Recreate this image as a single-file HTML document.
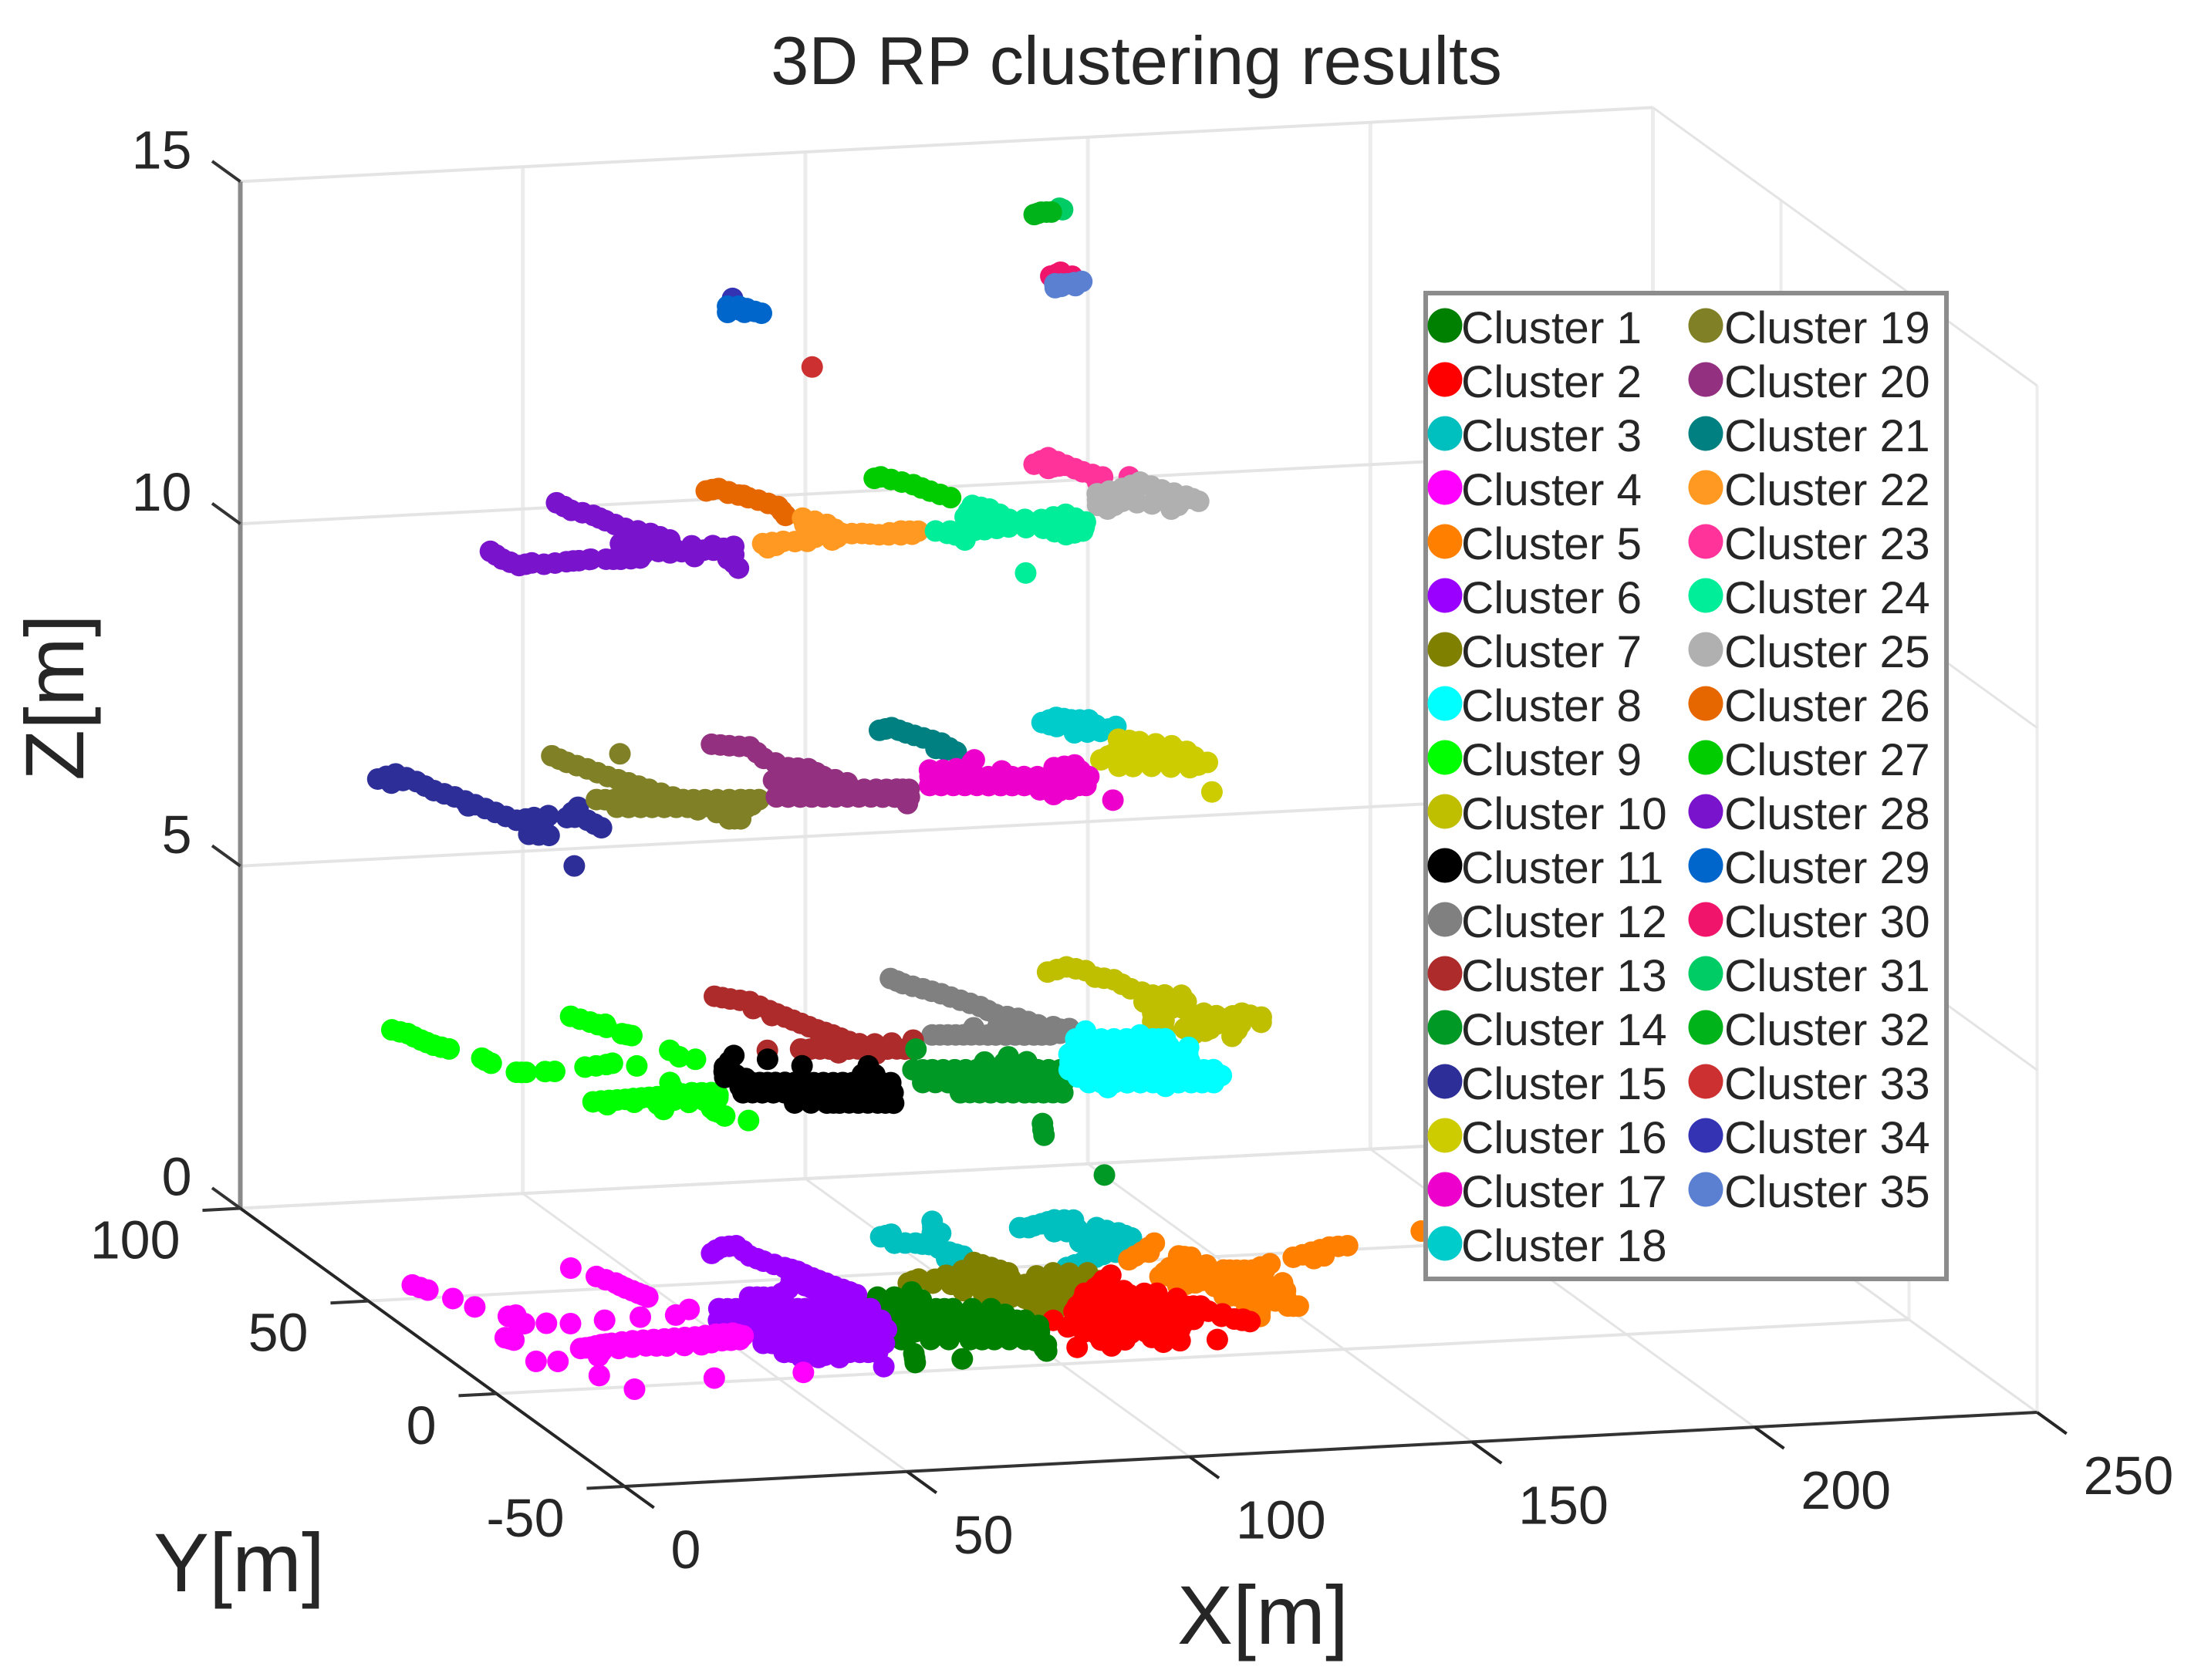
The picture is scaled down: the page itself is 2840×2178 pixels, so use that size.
<!DOCTYPE html>
<html lang="en">
<head>
<meta charset="utf-8">
<title>3D RP clustering results</title>
<style>
html,body{margin:0;padding:0;background:#fff;}
body{width:2840px;height:2178px;overflow:hidden;}
svg{display:block;font-family:"Liberation Sans",Arial,sans-serif;}
</style>
</head>
<body>
<svg id="chart" xmlns="http://www.w3.org/2000/svg" width="2840" height="2178" viewBox="0 0 2840 2178">
  <rect x="0" y="0" width="2840" height="2178" fill="#ffffff"/>
  <g id="grid"></g>
  <g id="axes"></g>
  <g id="marks"></g>
  <text x="1473" y="109" font-size="88.5" text-anchor="middle" fill="#262626">3D RP clustering results</text>
  <text x="1637" y="2131" font-size="108" text-anchor="middle" fill="#262626">X[m]</text>
  <text x="310" y="2063" font-size="108" text-anchor="middle" fill="#262626">Y[m]</text>
  <text transform="translate(108 904) rotate(-90)" font-size="108" text-anchor="middle" fill="#262626">Z[m]</text>
  <g id="legend"></g>
</svg>
<script>
// Axis ticks
const xTicks = [0, 50, 100, 150, 200, 250];
const yTicks = [-50, 0, 50, 100];
const zTicks = [0, 5, 10, 15];

// Legend labels
const clusterNames = ["Cluster 1","Cluster 2","Cluster 3","Cluster 4","Cluster 5","Cluster 6","Cluster 7","Cluster 8","Cluster 9","Cluster 10","Cluster 11","Cluster 12","Cluster 13","Cluster 14","Cluster 15","Cluster 16","Cluster 17","Cluster 18","Cluster 19","Cluster 20","Cluster 21","Cluster 22","Cluster 23","Cluster 24","Cluster 25","Cluster 26","Cluster 27","Cluster 28","Cluster 29","Cluster 30","Cluster 31","Cluster 32","Cluster 33","Cluster 34","Cluster 35"];

// Height of each cluster in metres
const clusterZ = [0,0,0,0,0,0,0,3.6,3.6,3.6,3.6,3.6,3.6,3.6,7.2,7.2,7.2,7.2,7.2,7.2,7.2,10.8,10.8,10.8,10.8,10.8,10.8,10.8,13,13.5,14.5,14.5,13,13,13.5];

// Cluster points as [x, y] in metres
const cluster1 = [[91.7,40.2],[87.7,38.1],[84.9,38.5],[83.4,32.5],[86.2,32],[89.1,31.6],[91.9,31.1],[94.7,30.7],[101,29.7],[82.4,26.4],[85.8,25.9],[89.3,25.3],[92.7,24.8],[95.5,24.3],[98.4,23.9],[101.2,23.4],[104,23],[79.8,20.6],[83.2,20.1],[86.6,19.5],[90,19],[93.4,18.4],[96.9,17.9],[100.3,17.3],[103.7,16.8],[79.2,16.5],[90.5,14.7],[94.5,14.1],[99.6,13.3],[101.9,10.1],[100.5,6.9],[78,9.1],[76.2,4.6],[84.8,5.2],
[84.8,32.2],[87.6,31.8],[90.5,31.3],[93.3,30.9],[97.9,30.2],[84.1,26.1],[87.5,25.6],[91,25],[94.1,24.5],[97,24.1],[99.8,23.6],[102.6,23.2],[81.5,20.3],[84.9,19.8],[88.3,19.2],[91.7,18.7],[95.1,18.1],[98.6,17.6],[102,17],[84,15.8],[87,15.3],[92.5,14.4],[97,13.7],[101,12.5],[86.3,35],[89,35],[91.5,36],[82.5,29],[95,27.5],[98,27],[102,26.5],[90,28.5],[86,29],[105,20],[81,24],[80.5,17.5],[89.2,36.5],[77.1,6.8],[100.8,8.5]];
const cluster2 = [[106.4,8],[112.4,7.8],[121.8,8.3],[124.9,8.6],[131.3,8.2],[111.1,15.6],[115.6,13.5],[121.3,14],[127.5,14.4],[108.6,22.2],[114,22],[118.5,19.9],[124.2,20.4],[130,20.9],[140.2,17.8],[128.4,43.4],[122.9,37.3],[120,35],[123.9,34.4],[127,35.3],[129.8,33.4],[131.9,33.1],[115.8,28.7],[118.8,28.3],[122.2,27.7],[125.8,28.5],[128.7,28],[131.3,27.6],[133.7,25.9],[136.2,25.5],[112.5,22.3],[115.5,21.9],[118.4,21.4],[121.4,20.9],[125,21.7],[127.9,21.3],[129.1,16.9],[136.3,22.7],[137.3,19.8],[138.8,18.1],[140.8,16.4],
[117.3,28.5],[120.5,28],[124,28.1],[127.2,28.2],[130,27.8],[132.5,26.7],[135,25.7],[114,22.1],[117,21.6],[120,21.1],[123.2,21.3],[126.5,21.5],[125,31],[129,30],[121.5,31.5],[118,31.5],[114,26],[111,19],[113,18],[118,16.5],[124,17],[128,18],[133,23],[138,21],[139.8,17.2],[132,19],[125.5,37.5],[124.5,39],[126,41],[109.5,18.5],[112.7,14.5],[118.5,13.7],[124.4,14.2],[116,10.5],[121,11],[125,11.5],[112,11],[118,26],[122,24.5],[126,24.5],[130,24],[127,33],[134,30]];
const cluster3 = [[99.2,68.8],[101.5,69.8],[100,65.2],[103.5,64.7],[111.2,75.2],[108.6,69.4],[105.4,63.6],[107,59.3],[108.4,56.9],[105.1,56.1],[124.2,69.7],[125.7,69.5],[128.7,71.1],[131.7,72.7],[134.8,72.1],[129,66.8],[131.1,66.5],[133.4,67.5],[130.9,61],[132,59.4],[136.9,67.7],[134.5,61.8],[133.8,57.8],[134.5,54.9],[139.3,64.5],[140.3,61.6],[130,52.8],[126.7,50.6],[122.9,48.4],[137,57.2],
[100.4,69.3],[100.6,67.5],[101.8,65],[104.4,64],[106.2,61.5],[107.7,58],[110,72.3],[109.9,69],[106.8,66],[127,70.3],[130.2,71.9],[133.3,72.4],[130,69.8],[133.5,70],[132,64],[133.2,64],[131.5,60],[133,58.5],[134.2,56.3],[135.7,64.8],[137.9,66],[139.8,63],[138.6,59.4],[128.4,51.7],[124.8,49.5],[131.8,54],[132.2,56],[137.2,63]];
const cluster4 = [[10.9,56.9],[12.3,53.9],[14.5,49],[16.2,44.2],[19.6,38.6],[21.1,39],[20.6,34.5],[24.3,34.1],[28.2,33.3],[34.6,34.1],[41.2,34.7],[47.5,34.8],[51,37.3],[40.9,61.2],[43.2,56.3],[44.9,52.5],[45.4,49.7],[46.3,46.8],[47,44.6],[14.2,27.9],[15.1,26.5],[13.9,15.2],[17.5,14.6],[21.1,6.4],[23.8,-1.4],[39.5,2.1],[55.5,2.6],[24.2,20.5],[26.2,20.9],[28.5,21.9],[25.4,16.2],[30.5,22.3],[34.5,23],[38.3,23.1],[42,23.2],[45.7,23.3],[49.7,24.1],[52.8,24.2],[53.9,22.6],[30.5,19.5],[35.6,20.1],[39,19.5],[45,19.2],[49.3,20.7],[52.5,20.8],[32.5,21.5],[36.5,21.8],[40.5,21.3],[43,21],[47.5,21.8],
[25.2,20.7],[27.3,21.4],[29.5,22.1],[32.5,22.7],[36.4,23],[40.2,23.1],[43.9,23.3],[47.7,23.7],[51.2,24.1],[53.3,23.4],[27,18.5],[33,19.8],[37.3,19.8],[42,19.3],[47.1,20],[50.9,20.7],[11.6,55.4],[44,54.4],[45.1,51.1],[45.9,48.2],[46.7,45.7],[14.7,27.2],[20.1,36.5]];
const cluster5 = [[142.9,58.4],[138.8,54.2],[134.9,50.7],[140,54],[144,51.3],[145.7,50.3],[139.9,45.7],[136.2,41.4],[139.4,41.6],[142.1,42.6],[137.1,36.4],[140.6,37.3],[144.3,39.4],[148.2,43],[150.3,42.6],[152.9,42.2],[157.3,45],[144.9,36.6],[147,36.2],[149.8,36.5],[152.6,39.5],[142.4,30],[144.5,29.7],[147.6,30.6],[143.8,24.3],[143.6,18.7],[145.9,23.9],[153.7,31],[149.7,26.1],[150.6,23.2],[152.3,22.9],[162.6,47.6],[166.8,49.7],[170.9,51.8],[174.2,52],[165.7,46.4],[151.3,32.8],[189.7,57.4],
[140.9,56.3],[136.8,52.4],[144.8,50.8],[138,43.5],[141,44],[143,46],[137.8,41.5],[140.7,42],[138.7,36.8],[142.5,38.4],[146,41],[149.2,42.8],[151.6,42.4],[155,43.6],[146,36.4],[148.4,36.3],[151.2,38],[143.4,29.9],[146,30.1],[144,33],[148,33],[145,27],[149,28],[151.5,31],[152,27],[144.8,21.3],[151.5,23],[149.8,31],[164.7,48.6],[168.8,50.7],[172.5,51.9],[168,47.5],[141.5,40],[155,35],[146.5,46],[143,35],[155,42],[151,29],[148,39.5],[152,35]];
const cluster6 = [[67.5,64.9],[70.7,67.8],[73.3,68.1],[73.2,62.6],[74.3,59.6],[76.3,55.8],[77.6,53.6],[78.5,49.9],[79.6,46.9],[80.9,43.3],[82,40.3],[74.5,49.2],[75.6,46.2],[76.6,43.3],[77.5,39.7],[63.8,41.9],[66.1,41.5],[68.9,41.1],[56.1,36.9],[58.9,36.4],[61.2,36.1],[63.5,35.7],[65.7,35.3],[68,35],[70.3,34.6],[72.6,34.2],[74.8,33.9],[77.1,33.5],[79.4,33.1],[81.1,32.9],[53.4,31.1],[56.3,30.6],[59.7,30.1],[64.2,29.3],[68.8,28.6],[72.2,28],[75,27.6],[77.9,27.2],[80.2,26.8],[57.1,24.2],[60.5,23.7],[63.9,23.2],[67.3,22.6],[70.7,22.1],[74.1,21.5],[77,21.1],[55.5,18.3],[58.4,17.8],[61.2,17.3],[64.1,16.9],[66.9,16.4],[69.8,16],[72.6,15.5],[75.5,15.1],[56.9,13.2],[59.8,12.7],[62.6,12.3],[66,11.7],[69.4,11.2],[72.3,10.7],[58.6,10.1],[61.4,9.7],[64.8,9.1],[70.1,3.4],
[69,66.4],[72,68],[73.3,65.3],[73.8,61],[75.3,57.7],[77,54.7],[78,51.8],[79,48.4],[80.2,45],[81.5,41.8],[75,47.7],[76.1,44.8],[77,41.5],[65,41.7],[67.5,41.3],[72,45],[70,43],[57.5,36.6],[60,36.2],[62.3,35.9],[64.6,35.5],[66.8,35.2],[69.1,34.8],[71.4,34.4],[73.7,34],[76,33.7],[78.2,33.3],[80.2,33],[54.9,30.9],[58,30.3],[62,29.7],[66.5,29],[70.5,28.3],[73.6,27.8],[76.5,27.4],[79,27],[58.8,24],[62.2,23.4],[65.6,22.9],[69,22.3],[72.4,21.8],[75.5,21.3],[79,22],[57,18],[59.8,17.5],[62.6,17.1],[65.5,16.6],[68.3,16.2],[71.2,15.7],[74,15.3],[58.3,13],[61.2,12.5],[64.3,12],[67.7,11.5],[70.8,11],[60,11],[63,10.7],[54.5,27.5],[57,27],[60,26.5],[64,26],[68,25.5],[72,25],[76,24.5]];
const cluster7 = [[95.8,46.5],[93.2,44.8],[101.2,47.7],[108.7,53.4],[110.4,50.4],[112,47.3],[119.4,46.1],[125.1,45.2],[103.5,45.9],[106.3,44.1],[109.7,40.7],[114.8,41.3],[118.8,39.3],[122.8,40],[105.1,36],[109,34],[112.4,32],[115.9,34.3],[100.5,39.5],[108.9,28.4],[111.8,28],[118.1,35.3],[97.2,44.1],
[94.5,45.7],[98.5,46],[102.3,46.8],[105,49.6],[109.5,52],[111.2,48.8],[107.5,47],[111,44],[116,45],[122,45.5],[104.9,45],[108,42.4],[112.2,41],[116.8,40.3],[120.8,39.6],[103.3,37.8],[107,35],[110.7,33],[114.2,33],[117,35],[110.3,28.2],[110,37],[114,37],[102,42],[106,39.5],[118,43],[100,43],[109,31],[113,29.5],[125,41],[121,42.5]];
const cluster8 = [[120.3,39.2],[124.5,38.5],[128.7,37.9],[133,37.2],[135.1,36.9],[123.7,42.9],[131.8,39.5],[115.7,31.7],[120,31],[124.2,30.3],[128.4,29.7],[132.6,29],[135.3,28.6],[112.2,23.9],[116.5,23.2],[120.7,22.5],[124.9,21.9],[129.1,21.2],[132.8,20.6],[136,20.1],[112.5,16.9],[116.7,16.2],[121,15.5],[125.2,14.9],[129.4,14.2],[133.1,13.6],[114.5,13.9],[124.3,13],
[122.4,38.8],[126.6,38.2],[130.8,37.5],[134,37],[117.8,31.3],[122.1,30.6],[126.3,30],[130.5,29.4],[134,28.8],[114.3,23.5],[118.6,22.8],[122.8,22.2],[127,21.5],[131,20.9],[134.4,20.3],[114.6,16.5],[118.8,15.8],[123.1,15.2],[127.3,14.5],[131.2,13.9],[118,34.5],[122,34.5],[126,34],[130,33.5],[134,33],[137,32],[114,27.5],[118,27],[122,26.5],[126,26],[130,25.5],[134,25],[112,20],[116,19.5],[120,19],[124,18.5],[128,18],[132,17],[136,17]];
const cluster9 = [[9.5,61.8],[11.3,59.5],[12,55.9],[12.9,53],[14.6,50.7],[17.9,45.2],[18.3,42.4],[20.4,37.2],[22,36.9],[25.3,36.8],[26.9,36.6],[32.9,38],[37,38.7],[38.3,39.2],[41.7,37.2],[50.7,44.2],[50.8,40.7],[52.9,39],[42.1,63.9],[44,60.5],[45.5,57.4],[46.6,53.8],[47.8,52.6],[26.3,20.3],[29.3,20.6],[32.2,20.7],[35.2,21],[38.1,21.2],[41,21.5],[44.7,22.3],[47.9,21.8],[47.8,19],[43.4,28],[36.2,14.6],[44.4,14],[44.8,9.7],[47.7,6.8],
[10.4,60.6],[11.6,57.7],[12.4,54.5],[13.7,51.8],[18,44],[21.2,37],[35,38.3],[46,59],[43,62.2],[44.7,59],[47.2,53.2],[27.8,20.5],[30.7,20.6],[33.7,20.9],[36.6,21.1],[39.5,21.3],[42.8,21.9],[46.3,22],[48.5,20.5],[36.5,17.5],[42,17.5],[45,18],[44.6,11.8],[42.5,25],[40,19],[44.3,12.5],[33,19],[28,18.5]];
const cluster10 = [[130.9,73.6],[135.2,75.7],[137.5,73.3],[137.6,69.8],[140.1,68],[140.8,63],[143,59.2],[147.7,58.4],[138.9,50.2],[135.4,42.4],[143.2,52.2],[144,46.6],[141,38.7],[147.3,48.8],[150.3,45.6],[146.7,36.4],[155.9,45.3],[154.7,42.7],[153.6,47.8],[140.6,41.5],[144.8,40.8],
[133,74.6],[136.3,74.5],[138.8,69],[140.4,65.5],[141.9,61],[145,59],[139,46],[137,46],[141,52],[145,52],[145.7,47.7],[148.8,47.2],[151.5,46.7],[154.5,46.5],[143,42.5],[147,43],[143.4,39.7],[151,42.5],[147,55],[136.8,41],[149,39.5],[140,56]];
const cluster11 = [[64.8,37.1],[69,32.9],[79.9,31.1],[60.1,39.9],[55.9,34.3],[55.5,26],[58.2,25.6],[60.8,25.2],[64,24.7],[67.1,24.1],[70.3,23.6],[73.5,23.1],[76.6,22.6],[79.8,22.1],[53.1,20.9],[56.3,20.4],[60,19.8],[63.7,19.2],[66.9,18.7],[70,18.2],[73.2,17.7],[76.4,17.2],[77.9,17],[59.3,14.4],[64.6,13.5],[66.7,13.2],[69.8,12.7],[73,12.2],[75.6,11.7],[53.6,29.1],[77.3,26.7],
[56.9,25.8],[59.5,25.4],[62.4,25],[65.5,24.4],[68.7,23.9],[71.9,23.4],[75,22.9],[78.2,22.4],[54.7,20.7],[58.1,20.1],[61.9,19.5],[65.3,19],[68.5,18.5],[71.6,18],[74.8,17.5],[77,17.1],[62,14],[65.7,13.4],[68.3,13],[71.4,12.5],[74.3,12],[54,24],[77,27],[79,26.5],[56,30],[54.8,32],[58,37],[56.8,28],[60.5,17],[67.5,15.5],[72,15],[76,14],[65,21.5],[70,21],[75,20]];
const cluster12 = [[103.5,74.5],[104.4,71.6],[106.5,68.5],[108.4,65.5],[110.1,61.7],[111.9,58],[112.7,53.6],[115.5,51.1],[117.3,47.3],[121.6,44.6],[118.7,44.3],[97.5,45],[100.1,44.6],[102.7,44.2],[105.4,43.8],[108,43.3],[111.2,42.8],[114.3,42.3],[117,41.9],
[104,73],[105.4,70],[107.4,67],[109.2,63.6],[111,59.9],[112.3,55.8],[114.1,52.3],[116.4,49.2],[119.4,46],[120,44.5],[98.8,44.8],[101.4,44.4],[104,44],[106.7,43.5],[109.6,43],[112.7,42.5],[115.6,42.1],[110,47],[113,46.5],[116,45.5],[106,47.5],[119,42.5]];
const cluster13 = [[70.4,70.2],[72.4,68.4],[75,66.6],[76.2,61.5],[77.3,57.9],[78.5,54.3],[79.7,50.6],[81.1,47.6],[82.3,43.9],[66.8,41.6],[72.6,41.4],[75.8,40.9],[79,40.4],[82.1,39.9],[85.3,39.4],[88.5,38.9],[91.1,38.4],[93.2,42.9],[77,43.4],
[71.4,69.3],[73.7,67.5],[75.6,64],[76.7,59.7],[77.9,56.1],[79.1,52.4],[80.4,49.1],[81.7,45.8],[74.2,41.1],[77.4,40.6],[80.5,40.1],[83.7,39.6],[86.9,39.1],[89.8,38.6],[92,40.5],[83.5,42.5],[86,42],[89,42],[78,38.5],[84,37],[74,63],[75.5,59]];
const cluster14 = [[91.6,38.3],[86.4,28],[89.6,27.5],[93.3,26.9],[96.9,26.3],[100.6,25.7],[103.8,25.2],[107,24.7],[110.7,24.1],[105.1,32],[85.1,21.3],[89.3,20.6],[93.5,19.9],[97.7,19.2],[102,18.6],[106.2,17.9],[108.3,17.6],[89,15.2],[92.2,14.7],[95.9,14.1],[99.6,13.5],[102.7,13],[105.9,12.5],[95.5,-2.5],[94.2,-5.6],[93.1,-8.4],[94,-30],
[88,27.7],[91.4,27.2],[95.1,26.6],[98.7,26],[102.2,25.4],[105.4,25],[108.8,24.4],[87.2,21],[91.4,20.2],[95.6,19.5],[99.8,18.9],[104.1,18.2],[107,17.8],[90.6,15],[94,14.4],[97.7,13.8],[101.1,13.3],[104.3,12.8],[103,29],[100,30],[107,29],[91,24],[96,23],[101,22],[106,21],[110,21],[87,25]];
const cluster15 = [[8.2,64.4],[12.3,66.5],[14,62.1],[14.8,57.1],[16.8,53.4],[18.4,48.9],[20,44.5],[21.7,40],[25.2,40.9],[20.5,32.6],[23.6,31.5],[24.9,36.8],[30.6,40],[34.8,44.9],[34,34],[33.4,38.1],[20.8,15.5],
[10.2,65.5],[13.2,64.3],[14.4,59.6],[15.8,55.2],[17.6,51.1],[19.2,46.7],[20.8,42.2],[23.5,40.4],[22,32],[22.7,38.8],[22.7,35],[32.7,42.5],[32,40],[33.7,36],[28,41.5],[12,63],[17,48.5],[9.5,62]];
const cluster16 = [[139.5,64.9],[142.4,63.1],[146.8,60.2],[146.4,54.8],[136.1,58.5],[131.9,55],[137.6,56.2],[142.1,56.9],[133.4,51.3],[138.8,50.4],[144.8,48.7],[148.9,50.9],[142.9,35.9],
[141,64],[144.6,61.6],[146.6,57.5],[134,56.7],[138.8,59],[139.8,56.5],[144.3,56],[135.7,50.8],[141.8,49.5],[146.8,49.8],[136,54],[140,53],[144,52.5],[148,54],[148,57]];
const cluster17 = [[111,58.3],[101.3,54.4],[106,54.3],[122.4,52.3],[126.4,53.1],[99.9,51.1],[103.7,50.5],[107.6,49.9],[111.5,49.2],[115.4,48.6],[119.8,47.9],[123.7,47.3],[126.1,46.9],[97.8,46.6],[101.7,46],[105.6,45.4],[109.5,44.7],[113.4,44.1],[117.3,43.5],[121.2,42.9],[123.6,42.5],[116.2,38.8],[124.7,34.4],
[101.8,50.8],[105.6,50.2],[109.5,49.5],[113.4,48.9],[117.6,48.2],[121.7,47.6],[124.9,47.1],[99.7,46.3],[103.6,45.7],[107.5,45],[111.4,44.4],[115.3,43.8],[119.2,43.2],[122.4,42.7],[108.5,54],[103.5,54],[113,52],[124.4,52.7],[118,40.5],[115,41.5],[120,41],[126,50],[110,57],[103,49]];
const cluster18 = [[130.7,75.3],[134.2,77.5],[136.1,75.9],[139,75.4],[133.7,69.3],[138.3,69.3],[142,71.4],[132.2,72.9],
[132.5,76.4],[135.2,76.7],[137.5,75.6],[135,71.5],[136,69.3],[140.2,70.3],[131.5,74],[135.5,74],[139,72.5]];
const cluster19 = [[42.2,71.5],[43.2,67.8],[45.1,64],[46.7,59.6],[48.7,55.9],[50.6,52.1],[52.8,47.6],[53.9,70.7],[39.6,48.3],[42.5,47.8],[45.4,47.4],[48.8,46.8],[52.2,46.3],[55.6,45.7],[59.5,45.1],[63.4,44.5],[66.4,44],[41.2,43.9],[45.1,43.2],[49,42.6],[52.9,42],[57.1,35.1],[59,34.8],[56.5,38.6],[62.6,40.4],
[42.7,69.6],[44.1,65.9],[45.9,61.8],[47.7,57.7],[49.6,54],[51.7,49.8],[41,48],[44,47.6],[47.1,47.1],[50.5,46.5],[53.9,46],[57.5,45.4],[61.5,44.8],[64.9,44.2],[43.1,43.5],[47,42.9],[51,42.3],[54,40.5],[58,35],[58,38],[60,41],[56,42],[64,41.5],[50,50],[47.5,53]];
const cluster20 = [[71.2,73.1],[73.8,71.9],[76.9,70.8],[76.6,64.6],[78.5,59.3],[81.6,58.2],[82.3,53.9],[84.8,50.1],[73.2,53.3],[77.6,52.6],[72.6,48.6],[76.4,48],[80.3,47.4],[84.2,46.7],[88.1,46.1],[91.5,45.6],[93.5,45.2],[69.9,44.9],[73.8,44.2],[77.7,43.6],[81.6,43],[85.5,42.4],[89.4,41.7],[91.8,41.3],[90,38.1],
[72.5,72.5],[75.3,71.3],[76.8,67.7],[77.5,62],[80,58.8],[82,56],[83.5,52],[74.5,51],[76,50],[80,50],[74.5,48.3],[78.3,47.7],[82.2,47],[86.1,46.4],[89.8,45.8],[92.5,45.4],[71.8,44.5],[75.7,43.9],[79.6,43.3],[83.5,42.7],[87.4,42],[90.6,41.5],[84,44.5],[90,43.5]];
const cluster21 = [[102.1,75.7],[104.7,76.7],[105.9,73.7],[107.6,70.7],[109.4,67.6],[109.8,62.7],[107.3,65.1],
[103.4,76.2],[105.3,75.2],[106.7,72.2],[108.5,69.2],[109.6,65],[108.5,64]];
const cluster22 = [[69.2,48.7],[69.1,46.5],[73.1,49.3],[81.6,60.5],[79.4,53.9],[84.2,56.7],[84.6,51.7],[87.9,51.2],[90.4,50.1],[94.9,51.4],[97.7,50.9],[94,49.5],[81.5,48.7],[77.1,48.7],
[71,49],[71,47.5],[80.5,57.2],[82.9,58.6],[82,55],[84.4,54],[86.2,51.4],[89.1,50.7],[92.6,50.8],[96.3,51.1],[92,49.8],[96,49.5],[79.3,50.5],[75,48.9],[83,50],[81,53]];
const cluster23 = [[132.1,81.5],[135.9,84.4],[137.1,80.1],[138.4,76.4],[140.5,73.3],[138.5,70.8],[144.9,72.6],[134.7,79.7],
[134,83],[136.5,82.2],[137.8,78.2],[139.4,74.8],[139.5,72],[135.9,80],[133.5,79]];
const cluster24 = [[112.5,62.4],[108.7,56.8],[114.5,60.1],[115.4,54.4],[120.7,53.5],[125.9,55.5],[127.4,51.1],[100.6,50.5],[105.5,49.7],[109,49.9],[113.6,50.6],[119,49],[121.3,45.2],[124.9,46.6],[103.4,45.2],[105.9,27],
[110.6,59.6],[113.5,61.2],[115,57.2],[118,54],[123.3,54.5],[126.6,53.3],[112,56],[103,50.1],[107.2,49.8],[111.3,50.2],[116.3,49.8],[120.1,47],[123.1,45.9],[122.5,50],[117,52],[103,48],[108,52.5],[102,49],[126,48.5]];
const cluster25 = [[145.5,69.7],[141.1,67],[135.8,65],[133.2,59.1],[147.3,65.2],[149.9,61.4],[150.8,58.5],[142.5,58.4],[138.2,60.5],[134,57],[144.5,55.3],
[143.3,68.3],[138.4,66],[134.5,62],[146.4,67.4],[148.6,63.3],[150.4,60],[140.3,59.4],[136,58.7],[145,60],[141,63],[137,62],[148,59],[143,66],[146.5,57]];
const cluster26 = [[71.9,76.7],[74.5,77.6],[76.3,73.8],[78.4,70.7],[80.2,67],[79.4,62.3],
[73.2,77.2],[75.4,75.7],[77.3,72.2],[79.3,68.8],[79.8,64.6],[75,75],[77,73.5]];
const cluster27 = [[103.9,79.2],[105,77.6],[102.5,78.6],[107.5,74.4],[108.8,70.7],[110.7,66.9],
[106.2,76],[108.1,72.5],[109.7,68.8]];
const cluster28 = [[44.5,74.7],[45.2,70.5],[47.7,67.4],[48.5,64.4],[50,60],[53,56.8],[54.7,53],[22.5,52],[22.7,47.8],[24,44.1],[28.4,44.1],[32.7,44.8],[37.3,45.4],[42.2,44.6],[45.7,52.4],[48.7,48.4],[51.8,46.5],[56.4,47.2],[59.6,46.7],[63.8,48.1],[60,39.7],[59.6,37],[49.8,53.8],[51.9,50.7],[35,45],[39.8,45],[26.7,45.1],[45.7,44.7],
[44.9,72.6],[46.5,69],[48.1,65.9],[49.2,62.2],[51.5,58.4],[53.8,54.9],[51,55],[53,52],[22.6,50],[23.3,46],[25.4,44.6],[30.5,44.4],[34,45],[37,45.3],[41,44.8],[44,44.6],[47,46.5],[47.2,50.4],[50.2,47.5],[54,46.8],[58,47],[61.7,47.4],[61.9,43.9],[60,42],[55,44],[53.5,49],[57,49.5],[60.5,49]];
const cluster29 = [[83.2,93.3],[85,93],[85.8,91.6],[87.2,88.9],[81.8,90.2],[84.6,89.8],[84.4,91],[86.5,90],[83,91.7]];
const cluster30 = [[138.1,84.4],[135.6,82.7],[139.1,82.1],[137,83.5]];
const cluster31 = [[136.9,82.2],[137.1,81.4]];
const cluster32 = [[131.3,79.7],[133,80.7],[134.7,80.5],[132.2,80.2],[133.9,80.6]];
const cluster33 = [[83.3,60.5]];
const cluster34 = [[85.8,97.1]];
const cluster35 = [[134.5,78.7],[133.7,76.8],[136.5,78.4],[139.5,79.2],[135.5,78.5],[138,78.8],[135,77.3],[137.5,77.3]];
const clusterPoints = [cluster1,cluster2,cluster3,cluster4,cluster5,cluster6,cluster7,cluster8,cluster9,cluster10,cluster11,cluster12,cluster13,cluster14,cluster15,cluster16,cluster17,cluster18,cluster19,cluster20,cluster21,cluster22,cluster23,cluster24,cluster25,cluster26,cluster27,cluster28,cluster29,cluster30,cluster31,cluster32,cluster33,cluster34,cluster35];

// Cluster colours and the order they are painted in (back to front)
const clusterColors = ["#008000","#ff0000","#00bfbf","#ff00ff","#ff8000","#9900ff","#808000","#00ffff","#00ff00","#bfbf00","#000000","#808080","#ad2b2b","#009926","#2e2e99","#cccc00","#ee00cc","#00cccc","#808026","#933080","#008080","#ff9922","#ff3399","#00ee99","#b0b0b0","#e66600","#00cc00","#7a14cc","#0066cc","#f0146b","#00cc66","#00b31a","#cc3030","#3333b3","#5b80d1"];
const paintOrder = [3,5,7,2,1,6,4,10,12,13,14,8,9,11,15,19,18,16,21,17,20,23,25,26,22,27,24,28,34,29,30,35,31,32,33];

const SVGNS = "http://www.w3.org/2000/svg";
const xLimits = [0, 250];
const yLimits = [-50, 100];
const zLimits = [0, 15];

// Axis functions: data metres to page pixels
function projX(x, y) { return 643.5 + 7.324 * x - 3.32 * y; }
function projY(x, y, z) { return 1806.8 - 0.384 * x - 2.403 * y - 88.74 * z; }

function drawLine(parent, name, a, b, color, width) {
  const el = document.createElementNS(SVGNS, "line");
  el.setAttribute("x1", projX(a[0], a[1]));
  el.setAttribute("y1", projY(a[0], a[1], a[2]));
  el.setAttribute("x2", projX(b[0], b[1]));
  el.setAttribute("y2", projY(b[0], b[1], b[2]));
  el.setAttribute("stroke", color);
  el.setAttribute("stroke-width", width);
  
  
  parent.appendChild(el);
}

function drawLabel(parent, name, px, py, anchor, content) {
  const el = document.createElementNS(SVGNS, "text");
  el.setAttribute("x", px);
  el.setAttribute("y", py);
  el.setAttribute("font-size", "70");
  el.setAttribute("fill", "#262626");
  el.setAttribute("text-anchor", anchor);
  el.textContent = content;
  
  
  parent.appendChild(el);
}

const gridGroup = document.getElementById("grid");
const axesGroup = document.getElementById("axes");
const marksGroup = document.getElementById("marks");
const legendGroup = document.getElementById("legend");
const gridColor = "#e4e4e4";
const [x0, x1] = xLimits;
const [y0, y1] = yLimits;
const [z0, z1] = zLimits;

// Back wall, right wall and floor grid
xTicks.forEach(function (t) {
  drawLine(gridGroup, "grid-line-x-wall", [t, y1, z0], [t, y1, z1], "#ececec", 5);
  drawLine(gridGroup, "grid-line-x-floor", [t, y0, z0], [t, y1, z0], gridColor, 3);
});
yTicks.forEach(function (t) {
  drawLine(gridGroup, "grid-line-y-wall", [x1, t, z0], [x1, t, z1], "#ececec", 4);
  drawLine(gridGroup, "grid-line-y-floor", [x0, t, z0], [x1, t, z0], gridColor, 4);
});
zTicks.forEach(function (t) {
  drawLine(gridGroup, "grid-line-z-back", [x0, y1, t], [x1, y1, t], gridColor, 4);
  drawLine(gridGroup, "grid-line-z-right", [x1, y1, t], [x1, y0, t], gridColor, 3);
});

// Axis lines and ticks
drawLine(axesGroup, "z-axis-line", [x0, y1, z0], [x0, y1, z1], "#8a8a8a", 6);
drawLine(axesGroup, "y-axis-line", [x0, y1, z0], [x0, y0, z0], "#262626", 4);
drawLine(axesGroup, "x-axis-line", [x0, y0, z0], [x1, y0, z0], "#333333", 4);
xTicks.forEach(function (t) {
  drawLine(axesGroup, "x-tick", [t, y0, z0], [t, y0 - 11.5, z0], "#262626", 4);
  drawLabel(axesGroup, "x-tick-label", projX(t, y0) + 60, projY(t, y0, z0) + 106, "start", String(t));
});
yTicks.forEach(function (t) {
  drawLine(axesGroup, "y-tick", [x0, t, z0], [x0 - 6.7, t, z0], "#333333", 4);
  drawLabel(axesGroup, "y-tick-label", projX(x0, t) - 78, projY(x0, t, z0) + 65, "end", String(t));
});
zTicks.forEach(function (t) {
  drawLine(axesGroup, "z-tick", [x0, y1, t], [x0, y1 + 11, t], "#333333", 4);
  drawLabel(axesGroup, "z-tick-label", projX(x0, y1) - 63, projY(x0, y1, t) - 17, "end", String(t));
});

// Cluster points
paintOrder.forEach(function (id) {
  const i = id - 1;
  clusterPoints[i].forEach(function (p) {
    const c = document.createElementNS(SVGNS, "circle");
    c.setAttribute("cx", projX(p[0], p[1]));
    c.setAttribute("cy", projY(p[0], p[1], clusterZ[i]));
    c.setAttribute("r", "14");
    c.setAttribute("fill", clusterColors[i]);
    
    
    marksGroup.appendChild(c);
  });
});

// Legend
const box = document.createElementNS(SVGNS, "rect");
box.setAttribute("x", "1848");
box.setAttribute("y", "380");
box.setAttribute("width", "675");
box.setAttribute("height", "1278");
box.setAttribute("fill", "#ffffff");
box.setAttribute("stroke", "#8c8c8c");
box.setAttribute("stroke-width", "6");


legendGroup.appendChild(box);

clusterNames.forEach(function (label, i) {
  const col = i < 18 ? 0 : 1;
  const row = i < 18 ? i : i - 18;
  const cy = 422 + 70 * row;
  const dot = document.createElementNS(SVGNS, "circle");
  dot.setAttribute("cx", col ? 2211 : 1873);
  dot.setAttribute("cy", cy);
  dot.setAttribute("r", "22.5");
  dot.setAttribute("fill", clusterColors[i]);
  
  
  legendGroup.appendChild(dot);
  const txt = document.createElementNS(SVGNS, "text");
  txt.setAttribute("x", col ? 2235 : 1894);
  txt.setAttribute("y", cy + 23);
  txt.setAttribute("font-size", "58.5");
  txt.setAttribute("fill", "#262626");
  txt.textContent = label;
  
  
  legendGroup.appendChild(txt);
});
</script>
</body>
</html>
